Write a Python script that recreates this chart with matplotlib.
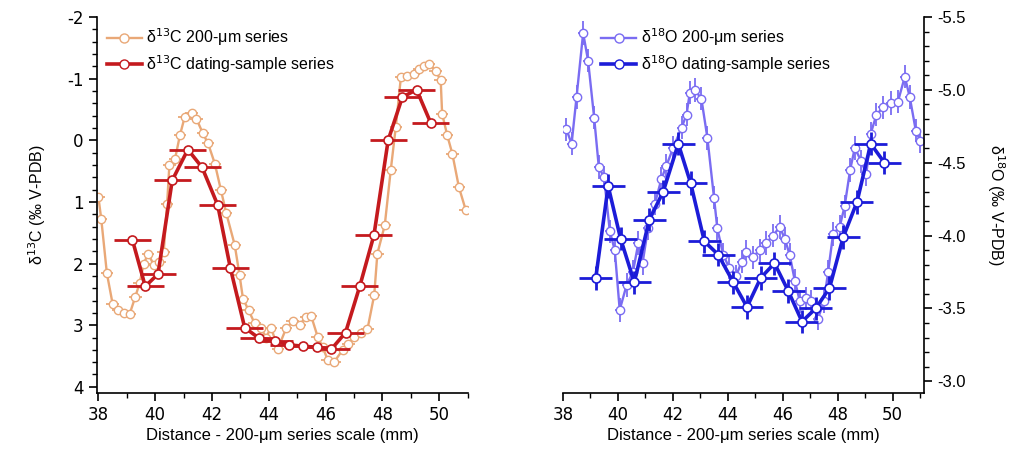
import matplotlib
matplotlib.use("Agg")
import matplotlib.pyplot as plt
from matplotlib.ticker import MultipleLocator, FormatStrFormatter
from matplotlib.lines import Line2D

# d13C, 200-um series
c_fine_x = [38.0, 38.1, 38.3, 38.5, 38.7, 38.9, 39.1, 39.3, 39.45, 39.6, 39.75, 39.95,
            40.15, 40.3, 40.42, 40.5, 40.7, 40.87, 41.04, 41.28, 41.45, 41.68, 41.86,
            42.1, 42.31, 42.5, 42.8, 42.97, 43.09, 43.29, 43.5, 43.73, 43.9, 44.08,
            44.32, 44.61, 44.84, 45.08, 45.31, 45.49, 45.72, 45.89, 46.07, 46.31, 46.6,
            46.8, 47.01, 47.25, 47.47, 47.71, 47.82, 48.08, 48.29, 48.47, 48.65, 48.88,
            49.11, 49.3, 49.45, 49.64, 49.87, 50.05, 50.1, 50.28, 50.46, 50.69, 50.93]
c_fine_v = [0.92, 1.27, 2.16, 2.65, 2.76, 2.80, 2.82, 2.54, 2.32, 2.00, 1.84, 2.02,
            1.97, 1.81, 1.03, 0.40, 0.30, -0.08, -0.38, -0.44, -0.35, -0.11, 0.05,
            0.38, 0.80, 1.18, 1.70, 2.19, 2.57, 2.76, 2.97, 3.05, 3.20, 3.04,
            3.38, 3.05, 2.94, 3.00, 2.86, 2.85, 3.19, 3.35, 3.56, 3.59, 3.40,
            3.30, 3.19, 3.12, 3.07, 2.51, 1.84, 1.38, 0.49, -0.22, -1.03, -1.05,
            -1.08, -1.15, -1.20, -1.24, -1.13, -0.97, -0.43, -0.08, 0.22, 0.76, 1.13]

# dating-sample series (shared x positions)
date_x = [39.2, 39.65, 40.1, 40.6, 41.15, 41.65, 42.2, 42.65, 43.15, 43.65, 44.2,
          44.7, 45.2, 45.7, 46.2, 46.7, 47.2, 47.7, 48.2, 48.7, 49.2, 49.7]
c_date_v = [1.62, 2.37, 2.17, 0.65, 0.15, 0.44, 1.05, 2.08, 3.04, 3.21, 3.25,
            3.32, 3.34, 3.36, 3.39, 3.12, 2.37, 1.54, 0.00, -0.70, -0.82, -0.28]
o_date_v = [-3.71, -4.34, -3.98, -3.68, -4.11, -4.30, -4.63, -4.36, -3.96, -3.87, -3.68,
            -3.51, -3.71, -3.81, -3.62, -3.41, -3.50, -3.64, -3.99, -4.23, -4.63, -4.50]

# d18O, 200-um series
o_fine_x = [38.13, 38.32, 38.5, 38.74, 38.92, 39.14, 39.31, 39.5, 39.71, 39.89, 40.07,
            40.32, 40.55, 40.75, 40.9, 41.1, 41.35, 41.59, 41.77, 42.01, 42.32, 42.5,
            42.62, 42.8, 43.04, 43.26, 43.5, 43.62, 43.83, 44.05, 44.3, 44.5, 44.68,
            44.9, 45.16, 45.4, 45.65, 45.89, 46.07, 46.25, 46.44, 46.62, 46.86, 47.04,
            47.28, 47.5, 47.65, 47.83, 48.07, 48.25, 48.45, 48.62, 48.86, 49.04, 49.2,
            49.41, 49.65, 49.95, 50.19, 50.44, 50.62, 50.84, 51.0]
o_fine_v = [-4.73, -4.63, -4.95, -5.39, -5.20, -4.81, -4.47, -4.40, -4.03, -3.90, -3.49,
            -3.66, -3.75, -3.95, -3.81, -4.05, -4.22, -4.39, -4.48, -4.60, -4.74, -4.83,
            -4.98, -5.00, -4.94, -4.67, -4.26, -4.05, -3.87, -3.78, -3.72, -3.82, -3.89,
            -3.85, -3.90, -3.95, -4.00, -4.06, -3.98, -3.87, -3.69, -3.55, -3.57, -3.55,
            -3.43, -3.55, -3.75, -4.01, -4.06, -4.20, -4.45, -4.60, -4.51, -4.42, -4.70,
            -4.83, -4.88, -4.91, -4.92, -5.09, -4.95, -4.72, -4.65]

C_LIGHT = '#E9A877'
C_DARK = '#C41A1E'
O_LIGHT = '#7A6CF2'
O_DARK = '#1C1CD8'

plt.rcParams['font.family'] = ['Liberation Sans', 'DejaVu Sans']
plt.rcParams['axes.unicode_minus'] = False

fig = plt.figure(figsize=(10.27, 4.53), dpi=100)
ax1 = fig.add_axes([0.0944, 0.1325, 0.361, 0.830])
ax2 = fig.add_axes([0.548, 0.1325, 0.3515, 0.830])


def draw(ax, fx, fv, dx, dv, light, dark, fxe, fye, dxe, dye):
    ax.errorbar(fx, fv, xerr=fxe, yerr=fye, fmt='-o', color=light, lw=1.7,
                elinewidth=1.3, capsize=0, ms=6, mfc='white', mec=light,
                mew=1.0, zorder=2)
    ax.errorbar(dx, dv, xerr=dxe, yerr=dye, fmt='-o', color=dark, lw=2.6,
                elinewidth=2.0, capsize=0, ms=6.5, mfc='white', mec=dark,
                mew=1.2, zorder=3)


draw(ax1, c_fine_x, c_fine_v, date_x, c_date_v, C_LIGHT, C_DARK, 0.22, 0.0, 0.65, 0.0)
draw(ax2, o_fine_x, o_fine_v, date_x, o_date_v, O_LIGHT, O_DARK, 0.18, 0.08, 0.6, 0.08)

ax1.set_xlim(37.95, 51.0)
ax1.set_ylim(4.1, -2.0)
ax2.set_xlim(38.0, 51.13)
ax2.set_ylim(-2.92, -5.5)

for ax in (ax1, ax2):
    ax.xaxis.set_major_locator(MultipleLocator(2))
    ax.xaxis.set_minor_locator(MultipleLocator(1))
    ax.spines['top'].set_visible(False)
    ax.tick_params(which='major', direction='out', length=6, width=1.2, labelsize=12)
    ax.tick_params(which='minor', direction='out', length=3.5, width=1.0)
    for lab in ax.get_xticklabels() + ax.get_yticklabels():
        lab.set_family('DejaVu Sans')
    ax.set_xlabel('Distance - 200-\u03bcm series scale (mm)', fontsize=12, labelpad=3)
    for s in ax.spines.values():
        s.set_linewidth(1.2)

ax1.spines['right'].set_visible(False)
ax1.yaxis.set_major_locator(MultipleLocator(1))
ax1.yaxis.set_minor_locator(MultipleLocator(0.2))
ax1.set_ylabel('\u03b4$^{13}$C (\u2030 V-PDB)', fontsize=11.5, labelpad=14)

ax2.spines['left'].set_visible(False)
ax2.yaxis.tick_right()
ax2.yaxis.set_label_position('right')
ax2.yaxis.set_major_locator(MultipleLocator(0.5))
ax2.yaxis.set_minor_locator(MultipleLocator(0.1))
ax2.yaxis.set_major_formatter(FormatStrFormatter('%.1f'))
ax2.set_ylabel('\u03b4$^{18}$O (\u2030 V-PDB)', fontsize=11.5, rotation=270, labelpad=30)


def handles(light, dark):
    return [Line2D([], [], color=light, lw=1.7, marker='o', ms=6.5, mfc='white', mec=light),
            Line2D([], [], color=dark, lw=2.6, marker='o', ms=6.5, mfc='white', mec=dark)]


ax1.legend(handles(C_LIGHT, C_DARK),
           ['\u03b4$^{13}$C 200-\u03bcm series', '\u03b4$^{13}$C dating-sample series'],
           loc='upper left', bbox_to_anchor=(0.0, 1.0), frameon=False, fontsize=11.5,
           handlelength=2.2, handletextpad=0.3, labelspacing=0.3, borderaxespad=0.2)
ax2.legend(handles(O_LIGHT, O_DARK),
           ['\u03b4$^{18}$O 200-\u03bcm series', '\u03b4$^{18}$O dating-sample series'],
           loc='upper left', bbox_to_anchor=(0.08, 1.0), frameon=False, fontsize=11.5,
           handlelength=2.2, handletextpad=0.3, labelspacing=0.3, borderaxespad=0.2)

fig.savefig('out.png', dpi=100)
